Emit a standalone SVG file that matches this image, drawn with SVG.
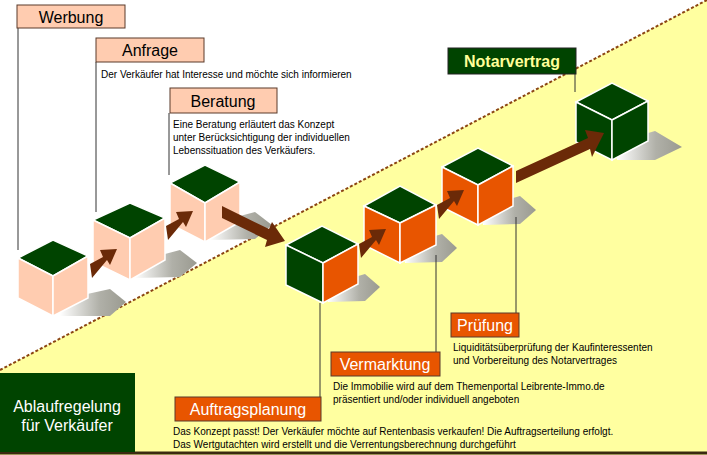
<svg xmlns="http://www.w3.org/2000/svg" width="707" height="455" viewBox="0 0 707 455">
<defs>
<style>
.t{font-family:"Liberation Sans",Arial,sans-serif;font-size:10px;fill:#000}
.lbl{font-family:"Liberation Sans",Arial,sans-serif;font-size:16px;text-anchor:middle}
.pb{fill:#FFCCB0;stroke:#5a3a2a;stroke-width:1}
.ob{fill:#E85500;stroke:#5a3a2a;stroke-width:1}
.v{stroke:#333;stroke-width:1;fill:none}
.top{fill:#004400;stroke:#fff;stroke-width:1.5}
.pf{fill:#FFCCB0;stroke:#fff;stroke-width:1.5}
.of{fill:#E85500;stroke:#fff;stroke-width:1.5}
.gf{fill:#004400;stroke:#fff;stroke-width:1.5}
.arr{fill:#6B2A08}
</style>
<linearGradient id="sh" x1="0" y1="0" x2="1" y2="0">
<stop offset="0" stop-color="#ffffff"/><stop offset="0.6" stop-color="#b0b0a8"/><stop offset="1" stop-color="#9a9a90"/>
</linearGradient>
</defs>
<rect width="707" height="455" fill="#fff"/>
<polygon points="0,370 707,0 707,455 0,455" fill="#FFFFA0"/>
<line x1="0" y1="370" x2="707" y2="0" stroke="#8B4513" stroke-width="2" stroke-dasharray="3,2"/>
<line x1="0" y1="453" x2="707" y2="453" stroke="#3a2a10" stroke-width="3"/>

<g id="cube1">
<polygon fill="url(#sh)" points="60,300 110,289 126,302 110,316 60,316"/>
<polygon class="top" points="18,258 53,240 88,256 53,276"/>
<polygon class="pf" points="18,258 53,276 53,316 18,298"/>
<polygon class="pf" points="53,276 88,256 88,298 53,316"/>
</g>
<g id="cube2">
<polygon fill="url(#sh)" points="135,262 180,250 197,263 180,277 135,278"/>
<polygon class="top" points="93,220 130,203 165,218 130,238"/>
<polygon class="pf" points="93,220 130,238 130,280 93,262"/>
<polygon class="pf" points="130,238 165,218 165,260 130,280"/>
</g>
<g id="cube3">
<polygon fill="url(#sh)" points="210,224 255,212 272,225 255,239 210,240"/>
<polygon class="top" points="170,183 205,165 240,182 205,203"/>
<polygon class="pf" points="170,183 205,203 205,242 170,224"/>
<polygon class="pf" points="205,203 240,182 240,222 205,242"/>
</g>
<g id="cube4">
<polygon fill="url(#sh)" points="328,285 365,274 380,287 365,301 328,302"/>
<polygon class="top" points="286,245 322,226 358,244 323,263"/>
<polygon class="gf" points="286,245 323,263 323,303 286,285"/>
<polygon class="of" points="323,263 358,244 358,284 323,303"/>
</g>
<g id="cube5">
<polygon fill="url(#sh)" points="405,245 442,234 457,248 442,262 405,263"/>
<polygon class="top" points="364,206 400,186 436,205 400,223"/>
<polygon class="of" points="364,206 400,223 400,263 364,245"/>
<polygon class="of" points="400,223 436,205 436,245 400,263"/>
</g>
<g id="cube6">
<polygon fill="url(#sh)" points="483,207 520,196 536,210 520,224 483,225"/>
<polygon class="top" points="442,167 478,148 513,166 478,185"/>
<polygon class="of" points="442,167 478,185 478,225 442,207"/>
<polygon class="of" points="478,185 513,166 513,206 478,225"/>
</g>
<g id="cube7">
<polygon fill="url(#sh)" points="617,142 655,131 682,147 655,160 617,160"/>
<polygon class="top" points="576,102 612,83 648,101 612,120"/>
<polygon class="gf" points="576,102 612,120 612,160 576,142"/>
<polygon class="gf" points="612,120 648,101 648,141 612,160"/>
</g>

<g id="connectors">
<line class="v" x1="18" y1="28" x2="18" y2="250"/>
<line class="v" x1="96" y1="62" x2="96" y2="212"/>
<line class="v" x1="169" y1="113" x2="169" y2="175"/>
<line class="v" x1="575" y1="74" x2="575" y2="92"/>
<line class="v" x1="320" y1="303" x2="320" y2="397"/>
<line class="v" x1="436" y1="255" x2="436" y2="352"/>
<line class="v" x1="516" y1="217" x2="516" y2="313"/>
<polygon class="arr" points="90,264 103,257 100,250 117,249 110,265 107,260 92,278"/>
<polygon class="arr" points="166,226 179,219 176,212 193,211 186,227 183,222 168,240"/>
<polygon class="arr" points="222,206 269,229 272,222 285,241 265,247 267,240 222,218"/>
<polygon class="arr" points="359,244 372,237 369,230 386,229 379,245 376,240 361,258"/>
<polygon class="arr" points="437,205 450,198 447,191 464,190 457,206 454,201 439,219"/>
<polygon class="arr" points="516,171 588,138 585,130 604,133 592,157 590,149 516,183"/>
</g>

<g id="werbung"><rect class="pb" x="17" y="5" width="108" height="23"/><text class="lbl" x="71" y="23">Werbung</text></g>
<g id="anfrage"><rect class="pb" x="96" y="38" width="108" height="24"/><text class="lbl" x="150" y="56">Anfrage</text>
<text class="t" x="101" y="78">Der Verkäufer hat Interesse und möchte sich informieren</text></g>
<g id="beratung"><rect class="pb" x="170" y="88" width="107" height="25"/><text class="lbl" x="223" y="107">Beratung</text>
<text class="t" x="173" y="128">Eine Beratung erläutert das Konzept</text>
<text class="t" x="173" y="141">unter Berücksichtigung der individuellen</text>
<text class="t" x="173" y="154">Lebenssituation des Verkäufers.</text></g>
<g id="notarvertrag"><rect x="448" y="48" width="128" height="26" fill="#004400" stroke="#222"/><text class="lbl" x="512" y="67" fill="#FFFF99" font-weight="bold">Notarvertrag</text></g>
<g id="pruefung"><rect class="ob" x="451" y="313" width="68" height="24"/><text class="lbl" x="485" y="331" fill="#fff">Prüfung</text>
<text class="t" x="453" y="351">Liquiditätsüberprüfung der Kaufinteressenten</text>
<text class="t" x="453" y="364">und Vorbereitung des Notarvertrages</text></g>
<g id="vermarktung"><rect class="ob" x="331" y="352" width="109" height="24"/><text class="lbl" x="385" y="370" fill="#fff">Vermarktung</text>
<text class="t" x="333" y="390">Die Immobilie wird auf dem Themenportal Leibrente-Immo.de</text>
<text class="t" x="333" y="403">präsentiert und/oder individuell angeboten</text></g>
<g id="auftragsplanung"><rect class="ob" x="175" y="397" width="146" height="24"/><text class="lbl" x="248" y="415" fill="#fff">Auftragsplanung</text>
<text class="t" x="173" y="435">Das Konzept passt! Der Verkäufer möchte auf Rentenbasis verkaufen! Die Auftragserteilung erfolgt.</text>
<text class="t" x="173" y="448">Das Wertgutachten wird erstellt und die Verrentungsberechnung durchgeführt</text></g>
<g id="ablauf"><rect x="0" y="373" width="135" height="79" fill="#004400"/>
<text class="lbl" x="67" y="412" fill="#fff">Ablaufregelung</text><text class="lbl" x="67" y="431" fill="#fff">für Verkäufer</text></g>
</svg>
